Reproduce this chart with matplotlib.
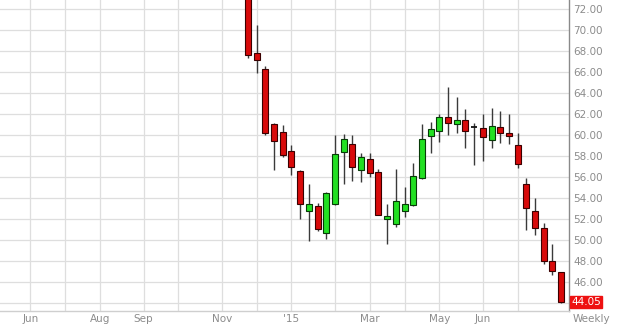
import matplotlib
matplotlib.use("Agg")
import matplotlib.pyplot as plt
import matplotlib.dates as mdates
import pandas as pd
import numpy as np

# ---- data (weekly candles, week ending Friday) ----
first_week = "2014-11-28"
n_weeks = 37
opens = [76.5, 67.73, 66.2, 61.0, 60.2, 58.4, 56.5, 52.74, 53.2, 50.6,
         53.4, 58.36, 59.1, 56.6, 57.7, 56.4, 51.92, 51.5, 52.74, 53.3,
         55.83, 59.86, 60.33, 61.7, 60.97, 61.38, 60.7, 60.6, 59.48, 60.69,
         60.11, 59.0, 55.3, 52.7, 51.13, 47.98, 46.9]
highs = [77.0, 70.43, 66.5, 61.1, 60.9, 59.0, 56.6, 55.29, 53.5, 54.5,
         59.95, 60.05, 59.95, 58.2, 58.2, 56.7, 53.38, 56.7, 54.97, 57.26,
         60.97, 61.22, 61.92, 64.5, 63.6, 62.43, 61.13, 61.95, 62.56, 62.27,
         61.95, 60.1, 55.83, 53.92, 51.6, 49.57, 46.95]
lows = [67.26, 65.9, 60.0, 56.6, 57.9, 56.1, 52.0, 49.89, 50.8, 50.05,
        53.3, 55.3, 55.6, 55.45, 56.0, 52.3, 49.57, 51.16, 52.1, 53.2,
        55.8, 58.27, 59.32, 59.95, 60.17, 58.74, 57.1, 57.48, 58.68, 59.16,
        59.1, 56.8, 50.9, 50.43, 47.64, 46.62, 43.95]
closes = [67.57, 67.1, 60.1, 59.4, 58.05, 56.9, 53.4, 53.38, 51.0, 54.46,
          58.1, 59.54, 56.9, 57.9, 56.3, 52.33, 52.24, 53.7, 53.38, 56.03,
          59.54, 60.5, 61.64, 61.07, 61.38, 60.33, 60.7, 59.73, 60.81, 60.11,
          59.86, 57.2, 53.0, 51.06, 47.98, 47.03, 44.05]
month_labels = ["Jun", "", "Aug", "Sep", "", "Nov", "", "'15", "", "Mar",
                "", "May", "Jun", ""]
y_ticks = [46, 48, 50, 52, 54, 56, 58, 60, 62, 64, 66, 68, 70, 72]
last_price = "44.05"
period_label = "Weekly"

# ---- figure ----
W, H = 618, 326
fig = plt.figure(figsize=(W / 100, H / 100), dpi=100)
ax = fig.add_axes([0, (H - 311) / H, 569 / W, 311 / H])

dates = pd.date_range(first_week, periods=n_weeks, freq="7D")
x = mdates.date2num(dates.to_pydatetime())

label_color = "#8c8c8c"
grid_color = "#dedede"

# month gridlines at first weekly bar of each month
fridays = pd.date_range("2014-05-30", "2015-08-07", freq="7D")
firsts = []
seen = set()
for d in fridays:
    key = (d.year, d.month)
    if key not in seen:
        seen.add(key)
        firsts.append(d)
firsts = firsts[1:1 + len(month_labels)]
mx = mdates.date2num(pd.DatetimeIndex(firsts).to_pydatetime())
ax.set_xticks(mx)
ax.set_xticklabels(month_labels)

ax.set_yticks(y_ticks)
ax.set_yticklabels([f"{v:.2f}" for v in y_ticks])
ax.set_axisbelow(True)
ax.grid(True, color=grid_color, lw=0.9)
# gridline for 44 (label hidden under the price box)
ax.axhline(44, color=grid_color, lw=0.9, zorder=0.5)

body_w = 4.8
for xi, o, h, l, c in zip(x, opens, highs, lows, closes):
    ax.vlines(xi, l, h, color="#3a3a3a", lw=1.0, zorder=2)
    if abs(c - o) < 1e-9:
        ax.hlines(o, xi - body_w / 2, xi + body_w / 2, color="#111111", lw=1.3, zorder=3)
        continue
    if c < o:
        fc, ec = "#d80a0a", "#3a0000"
    else:
        fc, ec = "#22e022", "#073a07"
    ax.bar(xi, abs(c - o), bottom=min(o, c), width=body_w, color=fc,
           edgecolor=ec, lw=0.8, zorder=3)

ax.set_xlim(x[0] - 28.5 * 7, x[0] + 36.9 * 7)
ax.set_ylim(72 - 302.5 / 10.5, 72 + 8.5 / 10.5)

ax.yaxis.tick_right()
ax.tick_params(axis="y", length=0, pad=3, labelsize=7.5, labelcolor=label_color)
ax.tick_params(axis="x", length=0, pad=2.5, labelsize=7.5, labelcolor=label_color)
for s in ["left", "top"]:
    ax.spines[s].set_visible(False)
ax.spines["right"].set_color("#8a8a8a")
ax.spines["right"].set_linewidth(1.0)
ax.spines["bottom"].set_color("#cfcfcf")
ax.spines["bottom"].set_linewidth(1.0)

# last price box
ax.text(1.004, closes[-1], last_price, transform=ax.get_yaxis_transform(),
        color="white", fontsize=7.5, va="center", ha="left", clip_on=False,
        zorder=10,
        bbox=dict(boxstyle="square,pad=0.12", fc="#ee1111", ec="#ee1111"))
fig.text(573 / W, 1 - 319 / H, period_label, color=label_color, fontsize=7.5,
         ha="left", va="center")

fig.savefig("out.png", dpi=100)
